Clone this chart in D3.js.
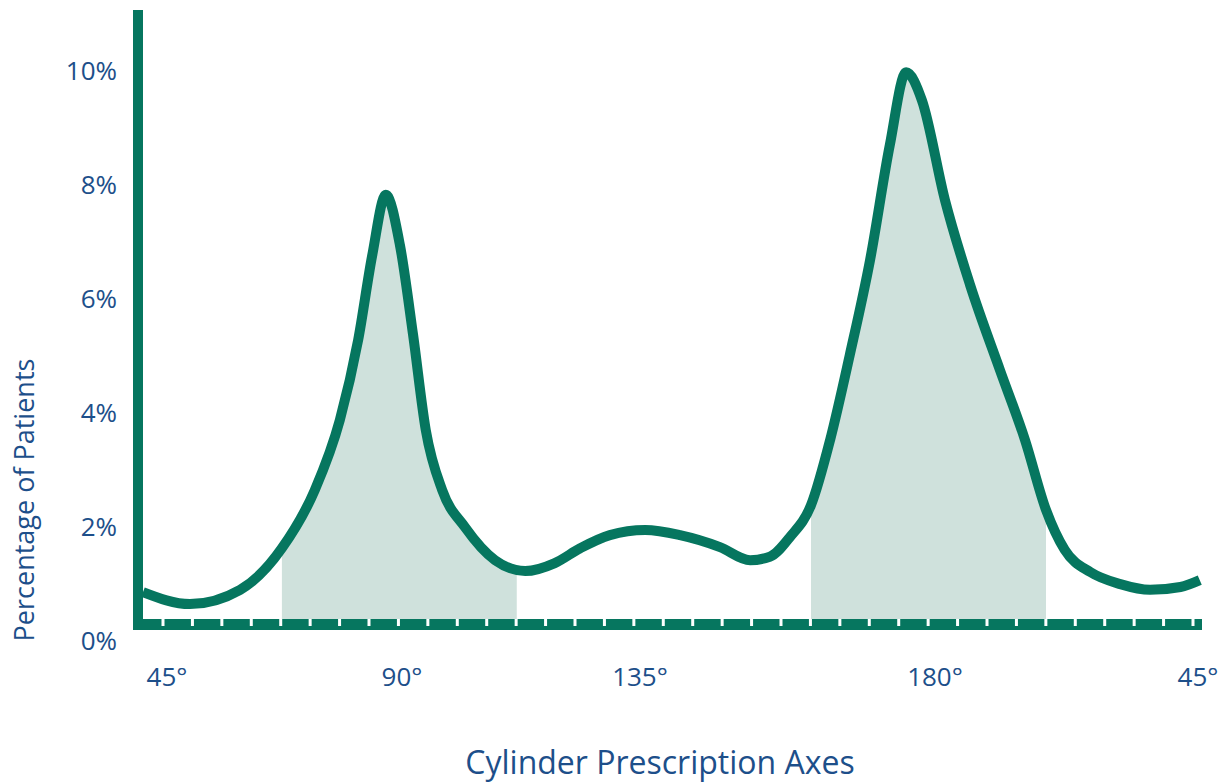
<!DOCTYPE html>
<html>
<head>
<meta charset="utf-8">
<script src="https://cdn.jsdelivr.net/npm/d3@7"></script>
<style>
  html, body { margin: 0; padding: 0; background: #fff; }
  text { font-family: "Open Sans", "Noto Sans", sans-serif; fill: #1d4f8a; }
</style>
</head>
<body>
<div id="chart"></div>
<script>
// axis angle (deg) and percentage of patients
const angles = [40.4, 49.4, 59.0, 67.0, 73.3, 78.1, 81.6, 84.3, 86.9, 89.6, 92.1, 94.5, 97.6,
  101.9, 107.6, 113.3, 118.9, 123.7, 129.3, 135.8, 141.1, 147.2, 151.8, 154.8, 157.9,
  161.1, 164.0, 167.0, 170.1, 173.1, 175.6, 178.0, 181.7, 186.0, 191.1, 195.4, 199.0, 202.2,
  206.6, 211.7, 216.8, 222.0, 225.3];
const percents = [0.84, 0.63, 0.88, 1.61, 2.63, 3.86, 5.26, 6.75, 7.81, 6.93, 5.35, 3.68, 2.63,
  1.98, 1.40, 1.21, 1.35, 1.61, 1.84, 1.93, 1.84, 1.63, 1.40, 1.46, 1.81,
  2.37, 3.51, 5.00, 6.67, 8.68, 9.96, 9.47, 7.72, 6.23, 4.74, 3.51, 2.28, 1.58,
  1.19, 0.98, 0.88, 0.93, 1.05];
const shaded = [[67.0, 111.7], [161.1, 199.0]];
const xTicks = [45, 90, 135, 180, 225];
const xTickText = ['45°', '90°', '135°', '180°', '45°'];
const yTicks = [0, 2, 4, 6, 8, 10];

const data = angles.map((a, i) => ({a: a, p: percents[i]}));
const W = 1221, H = 784;
const green = '#06765f', fillC = '#cfe1dc';

const svg = d3.select('#chart').append('svg').attr('width', W).attr('height', H);

const x = d3.scaleLinear().domain(xTicks).range([167, 402, 640, 935, 1198]);
const y = d3.scaleLinear().domain([0, 10]).range([640, 70]);

const axisLeft = 133, axisTop = 10, barTop = 619, barBottom = 630, axisRight = 1202;

const line = d3.line().x(d => x(d.a)).y(d => y(d.p)).curve(d3.curveMonotoneX);
const area = d3.area().x(d => x(d.a)).y0(barBottom).y1(d => y(d.p)).curve(d3.curveMonotoneX);

const defs = svg.append('defs');
shaded.forEach((s, i) => {
  defs.append('clipPath').attr('id', 'clip' + i)
    .append('rect')
    .attr('x', x(s[0])).attr('y', 0)
    .attr('width', x(s[1]) - x(s[0])).attr('height', barBottom + 2);
  svg.append('path').datum(data)
    .attr('clip-path', 'url(#clip' + i + ')')
    .attr('d', area)
    .attr('fill', fillC);
});

// x axis bar with notches
svg.append('rect').attr('x', axisLeft).attr('y', barTop)
  .attr('width', axisRight - axisLeft).attr('height', barBottom - barTop).attr('fill', green);
const notch = d3.scaleLinear().domain([0, 35]).range([163, 1193]);
svg.append('g').selectAll('rect').data(d3.range(36)).join('rect')
  .attr('x', d => notch(d) - 1.5).attr('y', barTop).attr('width', 3).attr('height', 7)
  .attr('fill', '#fff');

// y axis bar
svg.append('rect').attr('x', axisLeft).attr('y', axisTop)
  .attr('width', 10).attr('height', barBottom - axisTop).attr('fill', green);

// curve
defs.append('clipPath').attr('id', 'plotclip')
  .append('rect').attr('x', axisLeft + 10).attr('y', 0).attr('width', W).attr('height', barTop);
svg.append('path').datum(data)
  .attr('clip-path', 'url(#plotclip)')
  .attr('d', line)
  .attr('fill', 'none')
  .attr('stroke', green)
  .attr('stroke-width', 10)
  .attr('stroke-linejoin', 'round');

// tick labels
svg.append('g').selectAll('text').data(yTicks).join('text')
  .attr('x', 117).attr('y', d => y(d))
  .attr('text-anchor', 'end').attr('dominant-baseline', 'central')
  .style('font-size', '26px')
  .text(d => d + '%');

svg.append('g').selectAll('text').data(xTicks).join('text')
  .attr('x', d => x(d)).attr('y', 686)
  .attr('text-anchor', 'middle')
  .style('font-size', '26px')
  .text((d, i) => xTickText[i]);

svg.append('text')
  .attr('x', 660).attr('y', 774)
  .attr('text-anchor', 'middle')
  .style('font-size', '32px')
  .text('Cylinder Prescription Axes');

svg.append('text')
  .attr('transform', 'translate(34,500) rotate(-90)')
  .attr('text-anchor', 'middle')
  .style('font-size', '27px')
  .text('Percentage of Patients');
</script>
</body>
</html>
